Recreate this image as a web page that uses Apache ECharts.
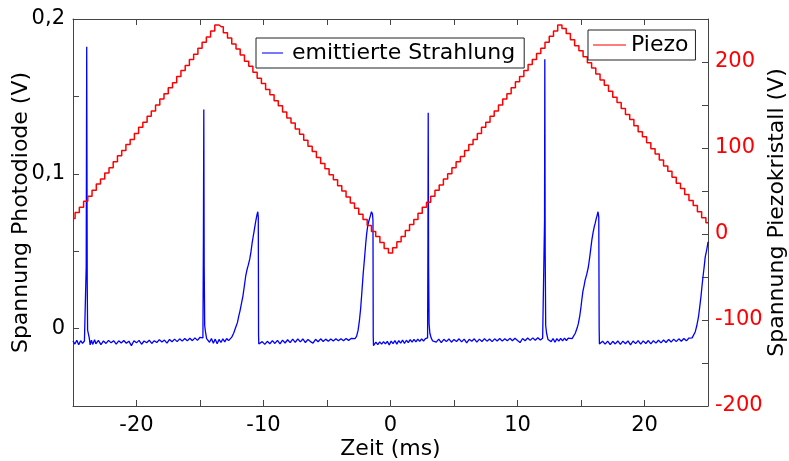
<!DOCTYPE html>
<html>
<head>
<meta charset="utf-8">
<script src="https://cdn.jsdelivr.net/npm/echarts/dist/echarts.min.js"></script>
<style>
html,body{margin:0;padding:0;background:#fff;}
#chart{width:789px;height:461px;}
</style>
</head>
<body>
<div id="chart"></div>
<script>
// ---- Data ----
const seriesNames = ['emittierte Strahlung', 'Piezo'];
const xTickLabels = [-20, -10, 0, 10, 20];
const leftTickLabels = [0, 0.1, 0.2];
const rightTickLabels = [-200, -100, 0, 100, 200];

// photodiode signal: [time (ms), voltage (V)]
const photodiode = [
  [-25,-0.0080],[-24.85,-0.0100],[-24.7,-0.0075],[-24.55,-0.0104],[-24.4,-0.0078],[-24.25,-0.0096],[-24.1,-0.0080],[-24.0,-0.0085],
  [-23.96,0.040],[-23.92,0.182],[-23.88,0.030],[-23.85,-0.001],[-23.8,-0.002],[-23.72,-0.006],[-23.65,-0.0105],[-23.55,-0.0075],[-23.45,-0.0102],[-23.3,-0.0072],
  [-23.2,-0.0098],[-23.0,-0.0076],[-22.8,-0.0104],[-22.6,-0.0080],[-22.4,-0.0096],[-22.2,-0.0076],[-22.0,-0.0092],[-21.8,-0.0078],[-21.6,-0.0100],[-21.4,-0.0079],
  [-21.2,-0.0093],[-21.0,-0.0077],[-20.8,-0.0095],[-20.6,-0.0081],[-20.4,-0.0110],[-20.2,-0.0078],[-20.0,-0.0092],[-19.8,-0.0076],[-19.6,-0.0101],[-19.4,-0.0080],
  [-19.2,-0.0091],[-19.0,-0.0075],[-18.8,-0.0096],[-18.6,-0.0078],[-18.4,-0.0090],[-18.2,-0.0071],[-18.0,-0.0087],[-17.8,-0.0074],[-17.6,-0.0094],[-17.4,-0.0070],
  [-17.2,-0.0085],[-17.0,-0.0068],[-16.8,-0.0084],[-16.6,-0.0066],[-16.4,-0.0081],[-16.2,-0.0064],[-16.0,-0.0079],[-15.8,-0.0062],[-15.6,-0.0078],[-15.4,-0.0060],
  [-15.2,-0.0076],[-15.0,-0.0056],[-14.85,-0.0066],[-14.77,-0.0060],
  [-14.73,0.060],[-14.70,0.1416],[-14.67,0.040],[-14.63,0.002],[-14.57,-0.002],[-14.48,-0.0065],
  [-14.4,-0.0068],[-14.25,-0.0088],[-14.1,-0.0064],[-13.95,-0.0095],[-13.8,-0.0068],[-13.65,-0.0098],[-13.5,-0.0070],[-13.35,-0.0090],[-13.2,-0.0066],[-13.05,-0.0086],
  [-12.9,-0.0064],[-12.75,-0.0078],
  [-12.6,-0.0070],[-12.5,-0.0055],[-12.35,-0.0030],[-12.2,0.0005],[-12.05,0.0040],[-11.95,0.0080],[-11.85,0.0115],[-11.73,0.0165],[-11.62,0.0210],[-11.5,0.0280],
  [-11.4,0.0340],[-11.3,0.0380],[-11.2,0.0410],[-11.08,0.0450],[-10.98,0.0500],[-10.9,0.0550],[-10.82,0.0590],[-10.72,0.0640],[-10.62,0.0690],[-10.55,0.0720],
  [-10.5,0.0740],[-10.45,0.0755],[-10.41,0.0720],[-10.39,-0.0040],[-10.37,-0.0100],
  [-10.3,-0.0096],[-10.1,-0.0084],[-9.9,-0.0102],[-9.7,-0.0082],[-9.5,-0.0098],[-9.3,-0.0078],[-9.1,-0.0096],[-8.9,-0.0076],[-8.7,-0.0098],[-8.5,-0.0074],
  [-8.3,-0.0093],[-8.1,-0.0072],[-7.9,-0.0091],[-7.7,-0.0068],[-7.5,-0.0089],[-7.3,-0.0066],[-7.1,-0.0086],[-6.9,-0.0067],[-6.7,-0.0090],[-6.5,-0.0070],
  [-6.3,-0.0084],[-6.1,-0.0094],[-5.9,-0.0069],[-5.7,-0.0085],[-5.5,-0.0066],[-5.3,-0.0083],[-5.1,-0.0068],[-4.9,-0.0081],[-4.7,-0.0067],[-4.5,-0.0080],
  [-4.3,-0.0066],[-4.1,-0.0079],[-3.9,-0.0065],[-3.7,-0.0078],[-3.5,-0.0064],[-3.3,-0.0076],[-3.1,-0.0064],[-2.95,-0.0070],
  [-2.8,-0.0065],[-2.67,-0.0050],[-2.55,-0.0010],[-2.45,0.0050],[-2.35,0.0130],[-2.25,0.0240],[-2.15,0.0355],[-2.05,0.0450],[-1.95,0.0550],[-1.88,0.0610],
  [-1.8,0.0660],[-1.72,0.0690],[-1.65,0.0710],[-1.58,0.0730],[-1.5,0.0755],[-1.42,0.0740],[-1.38,0.0700],[-1.36,-0.0050],[-1.34,-0.0110],
  [-1.3,-0.0100],[-1.15,-0.0088],[-1.0,-0.0104],[-0.85,-0.0086],[-0.7,-0.0100],[-0.55,-0.0084],[-0.4,-0.0099],[-0.25,-0.0082],[-0.1,-0.0106],[0.05,-0.0081],
  [0.2,-0.0097],[0.35,-0.0078],[0.5,-0.0100],[0.65,-0.0077],[0.8,-0.0094],[0.95,-0.0074],[1.1,-0.0096],[1.25,-0.0075],[1.4,-0.0091],[1.55,-0.0071],
  [1.7,-0.0088],[1.85,-0.0070],[2.0,-0.0086],[2.15,-0.0068],[2.3,-0.0083],[2.45,-0.0066],[2.6,-0.0080],[2.75,-0.0065],[2.88,-0.0068],[2.92,-0.0060],
  [2.95,0.060],[2.97,0.1395],[3.0,0.040],[3.04,0.003],[3.1,-0.003],[3.2,-0.006],[3.32,-0.0080],
  [3.4,-0.0070],[3.6,-0.0087],[3.8,-0.0068],[4.0,-0.0090],[4.2,-0.0069],[4.4,-0.0084],[4.6,-0.0067],[4.8,-0.0088],[5.0,-0.0070],[5.2,-0.0083],
  [5.4,-0.0066],[5.6,-0.0086],[5.8,-0.0068],[6.0,-0.0092],[6.2,-0.0069],[6.4,-0.0082],[6.6,-0.0066],[6.8,-0.0087],[7.0,-0.0068],[7.2,-0.0083],
  [7.4,-0.0065],[7.6,-0.0081],[7.8,-0.0067],[8.0,-0.0084],[8.2,-0.0066],[8.4,-0.0080],[8.6,-0.0064],[8.8,-0.0081],[9.0,-0.0065],[9.2,-0.0079],
  [9.4,-0.0063],[9.6,-0.0078],[9.8,-0.0062],[10.0,-0.0077],[10.2,-0.0090],[10.4,-0.0064],[10.6,-0.0078],[10.8,-0.0061],[11.0,-0.0076],[11.2,-0.0060],
  [11.4,-0.0075],[11.6,-0.0059],[11.8,-0.0074],[11.98,-0.0063],[12.08,-0.0060],[12.11,-0.0055],
  [12.13,0.070],[12.15,0.174],[12.18,0.050],[12.22,0.002],[12.29,-0.003],[12.4,-0.0070],
  [12.5,-0.0066],[12.65,-0.0084],[12.8,-0.0064],[12.95,-0.0088],[13.1,-0.0065],[13.25,-0.0081],[13.4,-0.0063],[13.55,-0.0079],[13.7,-0.0062],[13.85,-0.0077],
  [14.0,-0.0061],[14.15,-0.0070],
  [14.3,-0.0065],[14.4,-0.0054],[14.55,-0.0030],[14.7,0.0005],[14.79,0.0032],[14.9,0.0080],[15.0,0.0140],[15.06,0.0183],[15.15,0.0240],[15.25,0.0280],
  [15.32,0.0312],[15.45,0.0350],[15.58,0.0398],[15.7,0.0470],[15.85,0.0570],[15.95,0.0620],[16.05,0.0660],[16.11,0.0678],[16.2,0.0710],[16.28,0.0735],
  [16.34,0.0755],[16.40,0.0720],[16.43,0.0000],[16.45,-0.0100],
  [16.5,-0.0098],[16.7,-0.0082],[16.9,-0.0100],[17.1,-0.0081],[17.3,-0.0104],[17.5,-0.0082],[17.7,-0.0099],[17.9,-0.0080],[18.1,-0.0102],[18.3,-0.0081],
  [18.5,-0.0098],[18.7,-0.0079],[18.9,-0.0105],[19.1,-0.0080],[19.3,-0.0097],[19.5,-0.0078],[19.7,-0.0101],[19.9,-0.0079],[20.1,-0.0096],[20.3,-0.0077],
  [20.5,-0.0099],[20.7,-0.0078],[20.9,-0.0094],[21.1,-0.0075],[21.3,-0.0092],[21.5,-0.0074],[21.7,-0.0090],[21.9,-0.0070],[22.1,-0.0087],[22.3,-0.0068],
  [22.5,-0.0084],[22.7,-0.0066],[22.9,-0.0082],[23.1,-0.0064],[23.3,-0.0079],[23.5,-0.0061],[23.65,-0.0070],
  [23.75,-0.0060],[23.86,-0.0054],[24.0,-0.0020],[24.12,0.0020],[24.25,0.0075],[24.35,0.0140],[24.45,0.0210],[24.52,0.0269],[24.6,0.0330],[24.7,0.0400],
  [24.78,0.0462],[24.88,0.0500],[24.96,0.0538],[25,0.0560]
];

// piezo voltage (staircase, one step every 1/3 ms): [time (ms), voltage (V)]
const piezo = [
  [-25,18],[-24.67,25],[-24.33,31],[-24,38],[-23.67,44],[-23.33,51],[-23,58],[-22.67,64],[-22.33,71],[-22,77],
  [-21.67,84],[-21.33,91],[-21,97],[-20.67,104],[-20.33,110],[-20,117],[-19.67,124],[-19.33,130],[-19,137],[-18.67,143],
  [-18.33,150],[-18,157],[-17.67,163],[-17.33,170],[-17,176],[-16.67,183],[-16.33,190],[-16,196],[-15.67,203],[-15.33,209],
  [-15,216],[-14.67,223],[-14.33,229],[-14,236],[-13.67,243],[-13.33,241],[-13,234],[-12.67,228],[-12.33,221],[-12,215],
  [-11.67,208],[-11.33,201],[-11,195],[-10.67,188],[-10.33,181],[-10,175],[-9.67,168],[-9.33,162],[-9,155],[-8.67,149],
  [-8.33,142],[-8,135],[-7.67,129],[-7.33,122],[-7,116],[-6.67,109],[-6.33,102],[-6,96],[-5.67,89],[-5.33,82],
  [-5,76],[-4.67,69],[-4.33,63],[-4,56],[-3.67,50],[-3.33,43],[-3,36],[-2.67,30],[-2.33,23],[-2,17],
  [-1.67,10],[-1.33,3],[-1,-3],[-0.67,-10],[-0.33,-17],[0,-22],[0.33,-16],[0.67,-9],[1,-3],[1.33,4],
  [1.67,11],[2,17],[2.33,24],[2.67,31],[3,37],[3.33,44],[3.67,51],[4,57],[4.33,64],[4.67,70],
  [5,77],[5.33,84],[5.67,90],[6,97],[6.33,104],[6.67,110],[7,117],[7.33,124],[7.67,130],[8,137],
  [8.33,143],[8.67,150],[9,157],[9.33,163],[9.67,170],[10,177],[10.33,183],[10.67,190],[11,197],[11.33,203],
  [11.67,210],[12,216],[12.33,223],[12.67,230],[13,236],[13.33,243],[13.67,239],[14,233],[14.33,226],[14.67,219],
  [15,213],[15.33,206],[15.67,199],[16,193],[16.33,186],[16.67,179],[17,173],[17.33,166],[17.67,159],[18,153],
  [18.33,146],[18.67,139],[19,133],[19.33,126],[19.67,119],[20,113],[20.33,106],[20.67,99],[21,93],[21.33,86],
  [21.67,79],[22,73],[22.33,66],[22.67,59],[23,53],[23.33,46],[23.67,39],[24,33],[24.33,26],[24.67,19],[25,13]
];

// ---- Chart ----
const FONT = 'DejaVu Sans';
const AX = '#444';
const chart = echarts.init(document.getElementById('chart'), null, {renderer: 'canvas'});

function fmtLeft(v) {
  const k = Math.round(v * 100);
  const ok = leftTickLabels.some(t => Math.round(t * 100) === k);
  return ok ? String(k / 100).replace('.', ',') : '';
}
function fmtRight(v) {
  const k = Math.round(v);
  return rightTickLabels.indexOf(k) >= 0 ? String(k) : '';
}
function fmtX(v) {
  const k = Math.round(v);
  return xTickLabels.indexOf(k) >= 0 ? String(k) : '';
}

const option = {
  animation: false,
  backgroundColor: '#fff',
  grid: {left: 73, right: 81, top: 19, bottom: 55, containLabel: false, outerBoundsMode: 'none'},
  legend: [
    {
      data: [seriesNames[0]],
      left: 256, top: 38,
      orient: 'horizontal',
      icon: 'rect', itemWidth: 21, itemHeight: 1.5,
      itemStyle: {color: '#4a4aff'},
      padding: [3, 9, 3, 6],
      borderColor: '#222', borderWidth: 1, borderRadius: 0,
      backgroundColor: '#fff',
      textStyle: {fontFamily: FONT, fontSize: 22, color: '#000', lineHeight: 24, padding: [0, 0, 0, 4]}
    },
    {
      data: [seriesNames[1]],
      left: 588, top: 30,
      orient: 'horizontal',
      icon: 'rect', itemWidth: 33, itemHeight: 1.5,
      itemStyle: {color: '#ff5050'},
      padding: [3, 7, 3, 5],
      borderColor: '#222', borderWidth: 1, borderRadius: 0,
      backgroundColor: '#fff',
      textStyle: {fontFamily: FONT, fontSize: 22, color: '#000', lineHeight: 24, padding: [0, 0, 0, 0]}
    }
  ],
  xAxis: [
    {
      type: 'value', position: 'bottom', min: -25, max: 25, interval: 5,
      name: 'Zeit (ms)', nameLocation: 'middle', nameGap: 32, nameMoveOverlap: false,
      nameTextStyle: {fontFamily: FONT, fontSize: 22, color: '#000'},
      axisLine: {show: true, onZero: false, lineStyle: {color: AX, width: 1}},
      axisTick: {show: true, inside: true, length: 6, lineStyle: {color: AX}},
      axisLabel: {show: true, margin: 9, formatter: fmtX, fontFamily: FONT, fontSize: 21, color: '#000', showMinLabel: true, showMaxLabel: true},
      splitLine: {show: false}
    },
    {
      type: 'value', position: 'top', min: -25, max: 25, interval: 5,
      axisLine: {show: true, onZero: false, lineStyle: {color: AX, width: 1}},
      axisTick: {show: true, inside: true, length: 6, lineStyle: {color: AX}},
      axisLabel: {show: false},
      splitLine: {show: false}
    }
  ],
  yAxis: [
    {
      type: 'value', position: 'left', min: -0.05, max: 0.2, interval: 0.05,
      name: 'Spannung Photodiode (V)', nameLocation: 'middle', nameGap: 41, nameRotate: 90, nameMoveOverlap: false,
      nameTextStyle: {fontFamily: FONT, fontSize: 22, color: '#000'},
      axisLine: {show: true, onZero: false, lineStyle: {color: AX, width: 1}},
      axisTick: {show: true, inside: true, length: 6, lineStyle: {color: AX}},
      axisLabel: {show: true, margin: 8, formatter: fmtLeft, fontFamily: FONT, fontSize: 21, color: '#000', showMinLabel: true, showMaxLabel: true},
      splitLine: {show: false}
    },
    {
      type: 'value', position: 'right', min: -200, max: 250, interval: 50,
      name: 'Spannung Piezokristall (V)', nameLocation: 'middle', nameGap: 58, nameRotate: 90, nameMoveOverlap: false,
      nameTextStyle: {fontFamily: FONT, fontSize: 22, color: '#000'},
      axisLine: {show: true, onZero: false, lineStyle: {color: AX, width: 1}},
      axisTick: {show: true, inside: true, length: 6, lineStyle: {color: AX}},
      axisLabel: {show: true, margin: 7, formatter: fmtRight, fontFamily: FONT, fontSize: 21, color: '#ff0000', showMinLabel: true, showMaxLabel: true},
      splitLine: {show: false}
    }
  ],
  series: [
    {
      name: seriesNames[0], type: 'line', xAxisIndex: 0, yAxisIndex: 0,
      data: photodiode, showSymbol: false, symbol: 'none',
      lineStyle: {color: '#0000ff', width: 1.3}, itemStyle: {color: '#0000ff'},
      z: 2
    },
    {
      name: seriesNames[1], type: 'line', xAxisIndex: 0, yAxisIndex: 1,
      data: piezo, step: 'middle', showSymbol: false, symbol: 'none',
      lineStyle: {color: '#ff0000', width: 1.5}, itemStyle: {color: '#ff0000'},
      z: 3
    }
  ]
};
chart.setOption(option);
</script>
</body>
</html>
